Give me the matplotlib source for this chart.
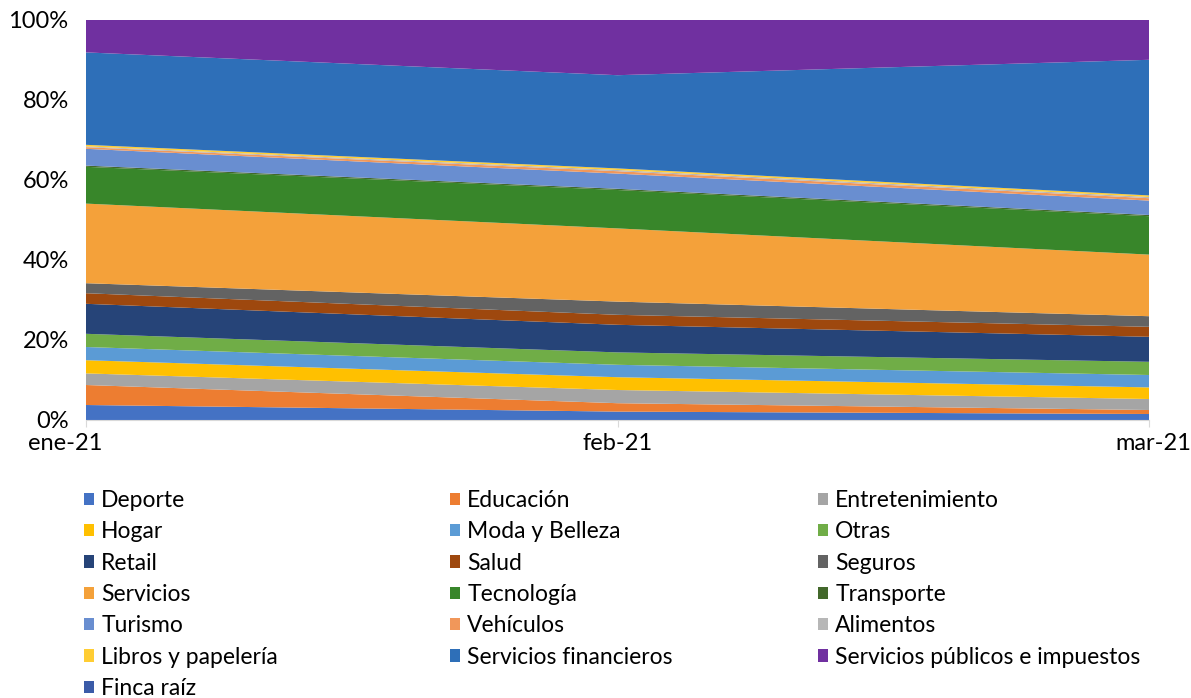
import numpy as np
import matplotlib
matplotlib.use("Agg")
import matplotlib.pyplot as plt
from matplotlib.patches import Patch
import matplotlib.transforms as mtransforms

plt.rcParams['font.family'] = ['Lato', 'DejaVu Sans']

# months on the x axis
months = ['ene-21', 'feb-21', 'mar-21']

# share of each category (%): ene, feb, mar
categories = ['Deporte', 'Educación', 'Entretenimiento', 'Hogar', 'Moda y Belleza', 'Otras',
              'Retail', 'Salud', 'Seguros', 'Servicios', 'Tecnología', 'Transporte',
              'Turismo', 'Vehículos', 'Alimentos', 'Libros y papelería',
              'Servicios financieros', 'Servicios públicos e impuestos', 'Finca raíz']
deporte = [3.75, 2.1, 1.5]
educacion = [5.0, 2.1, 1.0]
entretenimiento = [2.9, 3.3, 2.75]
hogar = [3.3, 3.2, 2.9]
moda = [3.3, 3.1, 3.1]
otras = [3.3, 3.1, 3.3]
retail = [7.5, 6.9, 6.25]
salud = [2.65, 2.5, 2.5]
seguros = [2.5, 3.3, 2.65]
servicios = [19.9, 18.3, 15.4]
tecnologia = [9.2, 9.6, 9.6]
transporte = [0.3, 0.3, 0.3]
turismo = [4.2, 3.8, 3.6]
vehiculos = [0.4, 0.6, 0.6]
alimentos = [0.2, 0.3, 0.3]
libros = [0.4, 0.4, 0.4]
financieros = [23.1, 23.3, 33.9]
publicos = [8.1, 13.8, 9.95]
finca = [0.0, 0.0, 0.0]

colors = ['#4472C4', '#ED7D31', '#A5A5A5', '#FFC000', '#5B9BD5', '#70AD47',
          '#264478', '#9E480E', '#636363', '#F4A13A', '#38862A', '#43682B',
          '#698ED0', '#F1975A', '#B7B7B7', '#FFCD33',
          '#2E6FB8', '#7030A0', '#3B5BA8']

series = np.array([deporte, educacion, entretenimiento, hogar, moda, otras, retail,
                   salud, seguros, servicios, tecnologia, transporte, turismo,
                   vehiculos, alimentos, libros, financieros, publicos, finca])
series = series / series.sum(axis=0) * 100   # 100% stacked

x = np.arange(len(months))

fig = plt.figure(figsize=(11.91, 6.98), dpi=100)
ax = fig.add_axes([86/1191, 1 - 420/698, (1149 - 86)/1191, 400/698])

ax.stackplot(x, series, colors=colors, linewidth=0)

ax.set_xlim(0, 2)
ax.set_ylim(0, 100)
ax.set_yticks(range(0, 101, 20))
ax.set_yticklabels([f'{v}%' for v in range(0, 101, 20)], fontsize=17)
ax.set_xticks(x)
ax.set_xticklabels(months, fontsize=17)
ax.tick_params(axis='y', length=0, pad=12.5)
ax.tick_params(axis='x', length=5, color='#D9D9D9', pad=4)
for s in ['top', 'right', 'left']:
    ax.spines[s].set_visible(False)
ax.spines['bottom'].set_color('#D9D9D9')

# excel pushes the outer labels a little
labs = ax.get_xticklabels()
labs[0].set_transform(labs[0].get_transform() + mtransforms.ScaledTranslation(-0.21, 0, fig.dpi_scale_trans))
labs[2].set_transform(labs[2].get_transform() + mtransforms.ScaledTranslation(0.04, 0, fig.dpi_scale_trans))

# legend: three columns, filled row by row
col_x = [84/1191, 450/1191, 818/1191]
for c in range(3):
    idx = list(range(c, len(categories), 3))
    handles = [Patch(facecolor=colors[i], edgecolor='none') for i in idx]
    labels = [categories[i] for i in idx]
    leg = fig.legend(handles, labels, loc='upper left', bbox_to_anchor=(col_x[c], 1 - 490/698),
                     frameon=False, fontsize=16.5, handlelength=0.45, handleheight=0.45,
                     handletextpad=0.3, labelspacing=0.45, borderaxespad=0, borderpad=0)

fig.savefig('out.png', dpi=100)
